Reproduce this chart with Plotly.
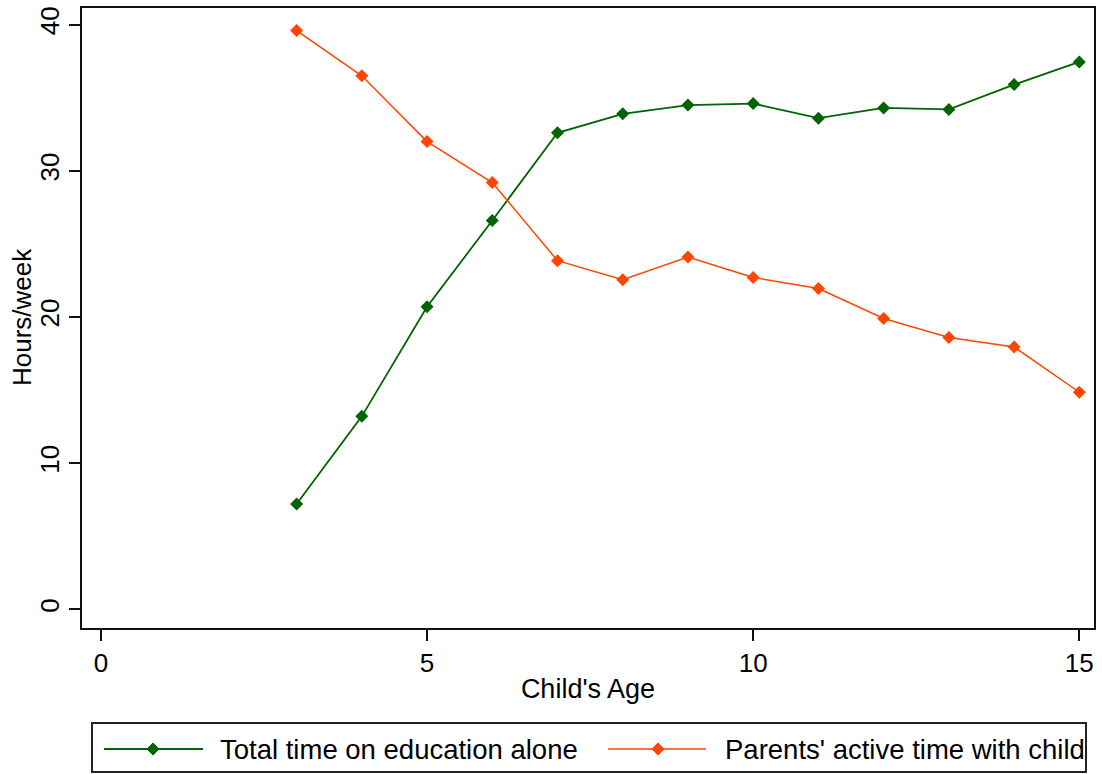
import plotly.graph_objects as go

# Child's age (years)
ages = [3, 4, 5, 6, 7, 8, 9, 10, 11, 12, 13, 14, 15]

# Hours per week
education_alone = [7.2, 13.2, 20.7, 26.6, 32.6, 33.9, 34.5, 34.6, 33.6, 34.3, 34.2, 35.9, 37.45]
parents_active = [39.6, 36.5, 32.0, 29.2, 23.85, 22.55, 24.1, 22.7, 21.95, 19.9, 18.6, 17.95, 14.85]

series_names = ["Total time on education alone", "Parents' active time with child"]
x_ticks = [0, 5, 10, 15]
y_ticks = [0, 10, 20, 30, 40]

GREEN = "#006400"
ORANGE = "#FF4500"
FONT = "Liberation Sans, Arial, sans-serif"

fig = go.Figure()
for name, values, color, lw in [(series_names[0], education_alone, GREEN, 1.8),
                                (series_names[1], parents_active, ORANGE, 1.5)]:
    fig.add_trace(go.Scatter(
        x=ages, y=values, name=name, mode="lines+markers",
        line=dict(color=color, width=lw),
        marker=dict(symbol="diamond", size=10, color=color),
        showlegend=False,
    ))

axis_common = dict(
    showgrid=False, zeroline=False, showline=True, linecolor="#111111",
    linewidth=2, mirror=True, ticks="outside", ticklen=11, tickwidth=2,
    tickcolor="#111111", tickfont=dict(family=FONT, size=26, color="black"),
)

fig.update_layout(
    width=1102, height=774,
    margin=dict(l=82, r=8, t=8, b=146, autoexpand=False),
    paper_bgcolor="white", plot_bgcolor="white",
    font=dict(family=FONT, color="black"),
    xaxis=dict(range=[-0.29, 15.225], tickvals=x_ticks,
               title=dict(text="Child's Age", font=dict(size=27), standoff=2),
               **axis_common),
    yaxis=dict(range=[-1.28, 41.14], tickvals=y_ticks, tickangle=-90,
               **axis_common),
    showlegend=False,
)

# Vertical axis title, set close to the tick labels
fig.add_annotation(text="Hours/week", xref="paper", yref="paper",
                   x=-0.0593, y=0.5016, xanchor="center", yanchor="middle",
                   textangle=-90, showarrow=False,
                   font=dict(family=FONT, size=26, color="black"))

# Legend box below the chart, one row with both series keys
legend_top, legend_bottom = -0.1532, -0.2323
fig.add_shape(type="rect", xref="paper", yref="paper",
              x0=0.0099, x1=0.9921, y0=legend_bottom, y1=legend_top,
              line=dict(color="#222222", width=2), fillcolor="white")

legend_y = -0.1952
keys = [
    (series_names[0], GREEN, 0.0217, 0.1196, 0.0702, 0.1344, 1.8),
    (series_names[1], ORANGE, 0.5198, 0.6166, 0.5692, 0.6334, 1.5),
]
for label, color, lx0, lx1, mx, tx, lw in keys:
    fig.add_shape(type="line", xref="paper", yref="paper",
                  x0=lx0, x1=lx1, y0=legend_y, y1=legend_y,
                  line=dict(color=color, width=lw))
    fig.add_shape(type="path", xref="paper", yref="paper",
                  xsizemode="pixel", ysizemode="pixel",
                  xanchor=mx, yanchor=legend_y,
                  path="M0,6 L6,0 L0,-6 L-6,0 Z",
                  line=dict(color=color, width=1), fillcolor=color)
    fig.add_annotation(text=label, xref="paper", yref="paper",
                       x=tx, y=legend_y, xanchor="left", yanchor="middle",
                       showarrow=False,
                       font=dict(family=FONT, size=27.5, color="black"))

fig.write_html("out.html")
